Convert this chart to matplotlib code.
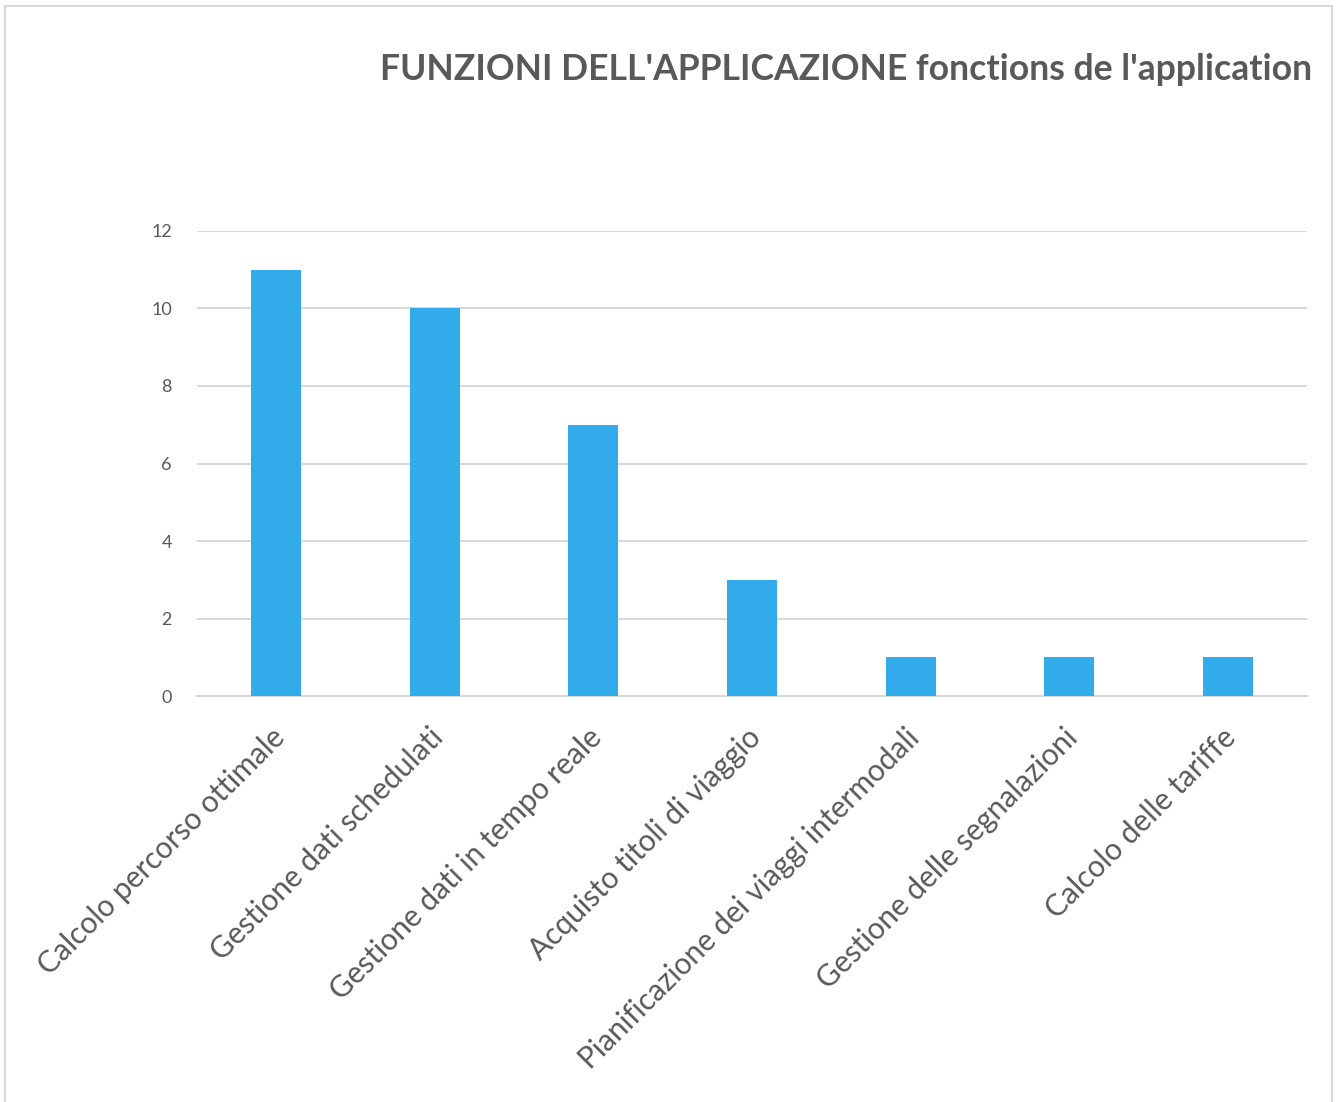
import matplotlib.pyplot as plt
import matplotlib.transforms as mtransforms
from matplotlib.patches import Rectangle

# --- Data ---
categories = [
    "Calcolo percorso ottimale",
    "Gestione dati schedulati",
    "Gestione dati in tempo reale",
    "Acquisto titoli di viaggio",
    "Pianificazione dei viaggi intermodali",
    "Gestione delle segnalazioni",
    "Calcolo delle tariffe",
]
values = [11, 10, 7, 3, 1, 1, 1]
y_ticks = [0, 2, 4, 6, 8, 10, 12]

text_color = "#595959"
grid_color = "#d9d9d9"
bar_color = "#31abea"

plt.rcParams['font.family'] = ['Lato', 'DejaVu Sans']

fig = plt.figure(figsize=(13.4, 11.02), dpi=100)
ax = fig.add_axes([0.147, 0.3684, 0.8284, 0.422])

x = list(range(len(categories)))
ax.bar(x, values, width=0.315, color=bar_color, zorder=3)

ax.set_xlim(-0.5, len(categories) - 0.5)
ax.set_ylim(0, 12)
ax.set_yticks(y_ticks)
ax.set_yticklabels([str(t) for t in y_ticks], fontsize=13, color=text_color)
ax.tick_params(axis='y', length=0, pad=18)
ax.yaxis.grid(True, color=grid_color, linewidth=1.5, zorder=0)
for side in ['top', 'right', 'left']:
    ax.spines[side].set_visible(False)
ax.spines['bottom'].set_color(grid_color)
ax.spines['bottom'].set_linewidth(1.5)

ax.set_xticks(x)
ax.set_xticklabels(categories, rotation=45, ha='right', va='center',
                   rotation_mode='anchor', fontsize=21.5, color=text_color)
ax.tick_params(axis='x', length=0, pad=0)
offset = mtransforms.ScaledTranslation(4 / 100, -37 / 100, fig.dpi_scale_trans)
for lbl in ax.get_xticklabels():
    lbl.set_transform(lbl.get_transform() + offset)

fig.text(0.979, 0.937, "FUNZIONI DELL'APPLICAZIONE fonctions de l'application",
         ha='right', va='center', fontsize=25.6, fontweight='bold', color=text_color)

# light frame around the chart area
fig.patches.append(Rectangle((0.004, -0.01), 0.99, 1.005, transform=fig.transFigure,
                             fill=False, edgecolor=grid_color, linewidth=1.5))

fig.savefig("out.png", dpi=100)
